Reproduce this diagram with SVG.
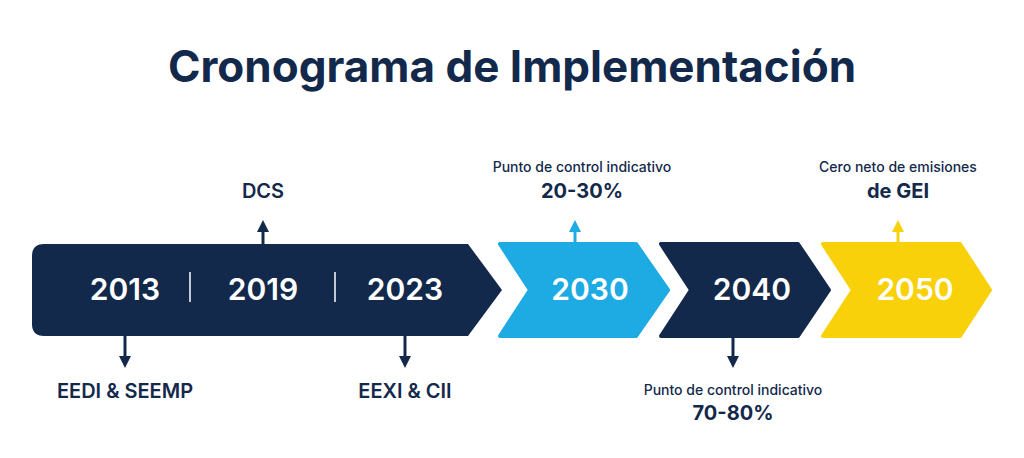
<svg xmlns="http://www.w3.org/2000/svg" width="1024" height="458" viewBox="0 0 1024 458">
<style>
text{font-family:Inter,"Liberation Sans",sans-serif;fill:#13294b;text-anchor:middle}
.t{font-size:44px;font-weight:700}
.y{font-size:30px;font-weight:600;fill:#fff}
.l{font-size:20px;font-weight:600}
.s{font-size:14px;font-weight:500}
.b{font-size:20px;font-weight:700}
.ln{stroke-width:3;fill:none}
</style>
<defs>
<marker id="ad" viewBox="0 0 10 10" refX="5" refY="5" markerWidth="4" markerHeight="4" orient="auto"><path d="M0,0L10,5L0,10z" fill="#13294b"/></marker>
<marker id="ab" viewBox="0 0 10 10" refX="5" refY="5" markerWidth="4" markerHeight="4" orient="auto"><path d="M0,0L10,5L0,10z" fill="#1eaae3"/></marker>
<marker id="ay" viewBox="0 0 10 10" refX="5" refY="5" markerWidth="4" markerHeight="4" orient="auto"><path d="M0,0L10,5L0,10z" fill="#f8d10a"/></marker>
</defs>
<rect width="1024" height="458" fill="#fff"/>
<text class="t" x="512" y="82">Cronograma de Implementación</text>
<g id="n1">
<path d="M44,244H468L502,290L468,336H44Q32,336 32,324V256Q32,244 44,244Z" fill="#13294b"/>
<line x1="190" y1="272" x2="190" y2="302" stroke="#fff" stroke-width="1.5"/>
<line x1="335" y1="272" x2="335" y2="302" stroke="#fff" stroke-width="1.5"/>
<text class="y" x="125" y="300">2013</text>
<text class="y" x="263" y="300">2019</text>
<text class="y" x="405" y="300">2023</text>
</g>
<g id="n2"><path d="M500,244H636L668,290L636,336H500L530,290Z" fill="#1eaae3" stroke="#1eaae3" stroke-width="4" stroke-linejoin="round"/><text class="y" x="590" y="300">2030</text></g>
<g id="n3"><path d="M661,244H798L829,290L798,336H661L691,290Z" fill="#13294b" stroke="#13294b" stroke-width="4" stroke-linejoin="round"/><text class="y" x="752" y="300">2040</text></g>
<g id="n4"><path d="M823,244H960L990,290L960,336H823L853,290Z" fill="#f8d10a" stroke="#f8d10a" stroke-width="4" stroke-linejoin="round"/><text class="y" x="915" y="300">2050</text></g>
<g id="connectors">
<line class="ln" x1="263" y1="244" x2="263" y2="226" stroke="#13294b" marker-end="url(#ad)"/>
<line class="ln" x1="575" y1="244" x2="575" y2="226" stroke="#1eaae3" marker-end="url(#ab)"/>
<line class="ln" x1="898" y1="244" x2="898" y2="226" stroke="#f8d10a" marker-end="url(#ay)"/>
<line class="ln" x1="125" y1="336" x2="125" y2="362" stroke="#13294b" marker-end="url(#ad)"/>
<line class="ln" x1="405" y1="336" x2="405" y2="362" stroke="#13294b" marker-end="url(#ad)"/>
<line class="ln" x1="733" y1="336" x2="733" y2="362" stroke="#13294b" marker-end="url(#ad)"/>
</g>
<g id="labels">
<text class="l" x="263" y="198">DCS</text>
<text class="s" x="582" y="172">Punto de control indicativo</text>
<text class="b" x="582" y="198">20-30%</text>
<text class="s" x="898" y="172">Cero neto de emisiones</text>
<text class="b" x="898" y="198">de GEI</text>
<text class="l" x="125" y="398">EEDI &amp; SEEMP</text>
<text class="l" x="405" y="398">EEXI &amp; CII</text>
<text class="s" x="733" y="395">Punto de control indicativo</text>
<text class="b" x="733" y="420">70-80%</text>
</g>
</svg>
